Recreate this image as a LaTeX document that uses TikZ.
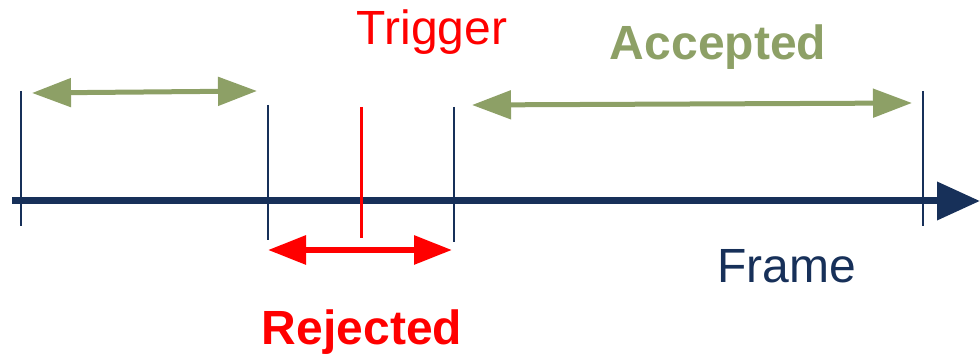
\documentclass[tikz,border=0pt]{standalone}
\usepackage{fontspec}
\setmainfont{Liberation Sans}
\usetikzlibrary{arrows.meta}
\definecolor{navy}{RGB}{23,48,89}
\definecolor{olive}{RGB}{141,160,102}
\definecolor{trigred}{RGB}{255,0,0}

\begin{document}
\begin{tikzpicture}
    [
        x=0.5pt, y=-0.5pt,
        axis_style/.style={draw=navy, line width=3.5pt, -{Triangle[length=21.5pt, width=18.5pt]}},
        tick_style/.style={draw=navy, line width=1pt},
        trig_style/.style={draw=trigred, line width=1.5pt},
        acc_style/.style={draw=olive, line width=2.5pt, {Triangle[length=19.5pt, width=14pt]}-{Triangle[length=19.5pt, width=14pt]}},
        rej_style/.style={draw=trigred, line width=3pt, {Triangle[length=19pt, width=14pt]}-{Triangle[length=19pt, width=14pt]}},
        text_style/.style={anchor=base, font=\fontsize{24}{28}\selectfont}
    ]
        \useasboundingbox (0,0) rectangle (980,356);

        % time axis
        \coordinate (a0) at (12,201);
        \coordinate (a1) at (980,201);
        \draw[axis_style] (a0) -- (a1);

        % frame boundaries
        \coordinate (t1a) at (21,91);   \coordinate (t1b) at (21,226);
        \coordinate (t2a) at (268,105); \coordinate (t2b) at (268,240);
        \coordinate (t3a) at (454,107); \coordinate (t3b) at (454,242);
        \coordinate (t4a) at (923,91);  \coordinate (t4b) at (923,226);
        \draw[tick_style] (t1a) -- (t1b);
        \draw[tick_style] (t2a) -- (t2b);
        \draw[tick_style] (t3a) -- (t3b);
        \draw[tick_style] (t4a) -- (t4b);

        % trigger
        \coordinate (tga) at (361,107);
        \coordinate (tgb) at (361,238);
        \draw[trig_style] (tga) -- (tgb);

        % accepted / rejected ranges
        \coordinate (l1) at (32,93);   \coordinate (l2) at (257,91);
        \coordinate (r1) at (472,105); \coordinate (r2) at (912,103);
        \coordinate (j1) at (268,250); \coordinate (j2) at (452,250);
        \draw[acc_style] (l1) -- (l2);
        \draw[acc_style] (r1) -- (r2);
        \draw[rej_style] (j1) -- (j2);

        \node[text_style, text=trigred] (trig) at (432,45) {Trigger};
        \node[text_style, text=olive, font=\fontsize{24}{28}\selectfont\bfseries] (acc) at (718,60) {Accepted};
        \node[text_style, text=navy] (frame) at (787,283) {Frame};
        \node[text_style, text=trigred, font=\fontsize{24}{28}\selectfont\bfseries] (rej) at (362,345) {Rejected};
    \end{tikzpicture}
\end{document}
